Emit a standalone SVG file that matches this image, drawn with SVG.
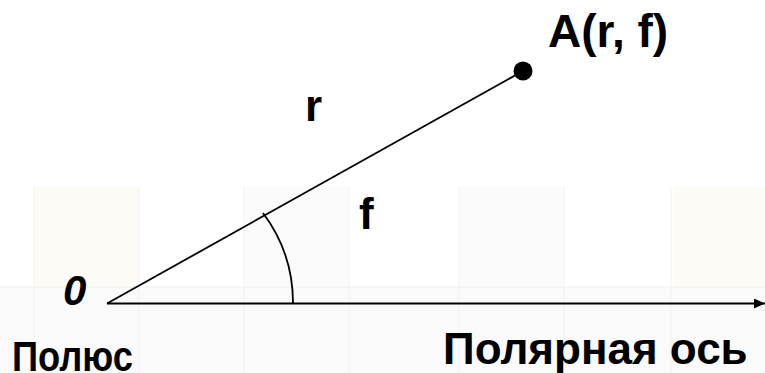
<svg xmlns="http://www.w3.org/2000/svg" width="765" height="373" viewBox="0 0 765 373">
  <style>
    .lbl { font-family: "Liberation Sans", Arial, sans-serif; font-weight: bold; fill: #000; }
    .ln { stroke: #000; fill: none; }
    .cellY { fill: #fdfbf5; }
    .cellG { fill: #fbfbfb; }
    .band { fill: #fafafa; }
    .grid { stroke: #f0f0f0; stroke-width: 1; }
  </style>
  <defs>
    <marker id="arrow" markerWidth="12" markerHeight="10" refX="11" refY="5" orient="auto" markerUnits="userSpaceOnUse">
      <path d="M0,0 L11,5 L0,10 Z" fill="#000"/>
    </marker>
  </defs>
  <rect width="765" height="373" fill="#fff"/>
  <g id="background">
    <rect class="cellY" x="34" y="187" width="105" height="100"/>
    <rect class="cellG" x="244" y="187" width="105" height="100"/>
    <rect class="cellG" x="459" y="187" width="105" height="100"/>
    <rect class="cellY" x="673" y="187" width="92" height="100"/>
    <rect class="band" x="0" y="287" width="765" height="86"/>
    <line class="grid" x1="0" y1="287" x2="765" y2="287"/>
    <line class="grid" x1="34" y1="187" x2="34" y2="373"/>
    <line class="grid" x1="139" y1="187" x2="139" y2="373"/>
    <line class="grid" x1="244" y1="187" x2="244" y2="373"/>
    <line class="grid" x1="349" y1="187" x2="349" y2="373"/>
    <line class="grid" x1="459" y1="187" x2="459" y2="373"/>
    <line class="grid" x1="564" y1="187" x2="564" y2="373"/>
    <line class="grid" x1="671" y1="187" x2="671" y2="373"/>
  </g>
  <g id="connectors">
    <line id="axis" class="ln" x1="107" y1="303.5" x2="765" y2="303.5" stroke-width="2.2" marker-end="url(#arrow)"/>
    <line id="ray" class="ln" x1="107" y1="303.5" x2="523" y2="71" stroke-width="1.8"/>
    <path id="angle-arc" class="ln" d="M263,213 A150,150 0 0 1 293,303.5" stroke-width="1.8"/>
  </g>
  <g id="pole">
    <text class="lbl" x="63" y="305" font-size="42" font-style="italic">0</text>
    <text class="lbl" x="12" y="371" font-size="42" textLength="121" lengthAdjust="spacingAndGlyphs">Полюс</text>
  </g>
  <g id="point-A">
    <circle cx="523" cy="71" r="9.5" fill="#000"/>
    <text class="lbl" x="548" y="47" font-size="46">A(r, f)</text>
  </g>
  <g id="label-r">
    <text class="lbl" x="305" y="121" font-size="44">r</text>
  </g>
  <g id="label-f">
    <text class="lbl" x="359" y="229" font-size="44">f</text>
  </g>
  <g id="polar-axis-label">
    <text class="lbl" x="443" y="364" font-size="44">Полярная ось</text>
  </g>
</svg>
